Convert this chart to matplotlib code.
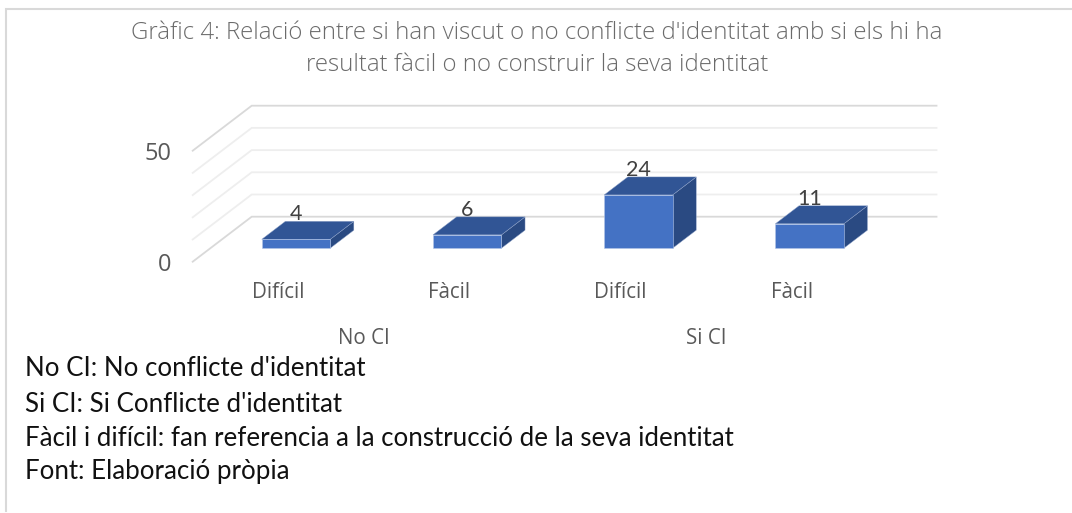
import matplotlib
matplotlib.use("Agg")
import matplotlib.pyplot as plt
from matplotlib.patches import Polygon
from matplotlib.transforms import Affine2D

title_lines = ["Gràfic 4: Relació entre si han viscut o no conflicte d'identitat amb si els hi ha",
               "resultat fàcil o no construir la seva identitat"]
categories = ["Difícil", "Fàcil", "Difícil", "Fàcil"]
groups = ["No CI", "Si CI"]
values = [4, 6, 24, 11]
grid_values = [0, 10, 20, 30, 40, 50]
y_tick_values = [0, 50]
notes = ["No CI: No conflicte d'identitat",
         "Si CI: Si Conflicte d'identitat",
         "Fàcil i difícil: fan referencia a la construcció de la seva identitat",
         "Font: Elaboració pròpia"]

W, H = 1072, 513
X0, XS = 278.3, 171.2      # pixel of category 0, pixels per category
Y0, YS = 261.7, 2.22       # pixel of value 0 (front plane), pixels per unit
DX, DY = 59.0, 45.0        # pixel shift of full depth

fig = plt.figure(figsize=(W / 100, H / 100), dpi=100)
ax = fig.add_axes([0, 0, 1, 1])
ax.set_xlim(-X0 / XS, (W - X0) / XS)
ax.set_ylim(-(H - Y0) / YS, Y0 / YS)
ax.axis("off")
px = Affine2D().scale(1, -1).translate(0, H)


def proj(x, v, d):
    return (x + d * DX / XS, v + d * DY / YS)


# wall and floor grid
x_left, x_right = -0.5, 3.5
for v in grid_values:
    col = "#d9d9d9" if v in (0, 50) else "#eeeeee"
    a, b, c = proj(x_left, v, 0), proj(x_left, v, 1), proj(x_right, v, 1)
    ax.plot([a[0], b[0], c[0]], [a[1], b[1], c[1]], color=col, lw=1.3, zorder=1,
            solid_joinstyle="miter")

# 3D bars
half = 0.2
D_FRONT, D_BACK = 0.30, 0.70
base = 0
for i, val in enumerate(values):
    l, r = i - half, i + half
    front = [proj(l, base, D_FRONT), proj(r, base, D_FRONT), proj(r, val, D_FRONT), proj(l, val, D_FRONT)]
    top = [proj(l, val, D_FRONT), proj(r, val, D_FRONT), proj(r, val, D_BACK), proj(l, val, D_BACK)]
    side = [proj(r, base, D_FRONT), proj(r, base, D_BACK), proj(r, val, D_BACK), proj(r, val, D_FRONT)]
    ax.add_patch(Polygon(side, fc="#2a4a82", ec="#8fa3c9", lw=0.3, zorder=3))
    ax.add_patch(Polygon(top, fc="#315595", ec="#8fa3c9", lw=0.3, zorder=3))
    ax.add_patch(Polygon(front, fc="#4472c4", ec="#b4c6e7", lw=0.4, zorder=4))
    lx, ly = proj(i, val, D_BACK)
    ax.annotate(str(val), (lx, ly), xytext=(-24, -3), textcoords="offset pixels",
                ha="center", va="bottom", fontsize=15.5, family="Lato", color="#404040", zorder=5)

# axis labels
for v in y_tick_values:
    ax.annotate(str(v), proj(x_left, v, 0), xytext=(-21, -3), textcoords="offset pixels",
                ha="right", va="center", fontsize=17, family="Open Sans", color="#595959")
for i, c in enumerate(categories):
    ax.annotate(c, (i, 0), xytext=(0, -31), textcoords="offset pixels",
                ha="center", va="center", fontsize=14.8, family="Open Sans", color="#595959")
for j, g in enumerate(groups):
    ax.annotate(g, (2 * j + 0.5, 0), xytext=(0, -77), textcoords="offset pixels",
                ha="center", va="center", fontsize=14.8, family="Open Sans", color="#595959")

# title
for s, y in zip(title_lines, [33, 65]):
    ax.text(537, y, s, transform=px, ha="center", va="center", fontsize=17.3,
            family="Open Sans", color="#6b6b6b", fontweight="light")

# notes
for s, y in zip(notes, [368, 404, 439, 472]):
    ax.text(25, y, s, transform=px, ha="left", va="center", fontsize=18.6,
            family="Lato", color="#111111")

# frame
ax.plot([6, 6, W], [511, 9, 9], transform=px, color="#d9d9d9", lw=1.5, solid_joinstyle="miter")

fig.savefig("out.png", dpi=100, facecolor="white")
